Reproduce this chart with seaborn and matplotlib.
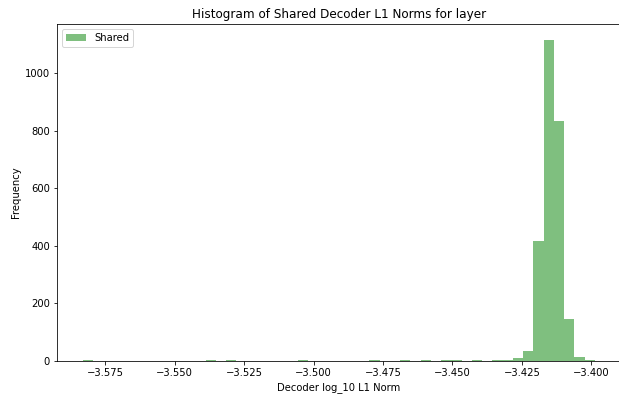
import matplotlib
matplotlib.use("Agg")
import matplotlib.pyplot as plt
import pandas as pd
import seaborn as sns

# centres of the non-empty bins (log10 of decoder L1 norm) and their counts
norm_values = [
    -3.5814, -3.5371, -3.5297, -3.5039, -3.4780, -3.4670, -3.4596,
    -3.4522, -3.4485, -3.4411, -3.4338, -3.4301, -3.4264, -3.4227,
    -3.4190, -3.4153, -3.4116, -3.4079, -3.4042, -3.4005,
]
norm_counts = [
    2, 2, 2, 2, 2, 2, 2,
    4, 2, 2, 2, 4, 9, 35,
    418, 1115, 833, 147, 14, 4,
]
data_min, data_max = -3.5832, -3.3987
n_bins = 50

df = pd.DataFrame({"norm": norm_values, "count": norm_counts})

fig = plt.figure(figsize=(619 / 72, 395 / 72), dpi=72)
ax = fig.add_axes([57 / 619, 34 / 395, 563.5 / 619, 337 / 395])

sns.histplot(
    data=df,
    x="norm",
    weights="count",
    bins=n_bins,
    binrange=(data_min, data_max),
    color="green",
    alpha=0.5,
    linewidth=0,
    label="Shared",
    ax=ax,
)

ax.set_title("Histogram of Shared Decoder L1 Norms for layer")
ax.set_xlabel("Decoder log_10 L1 Norm")
ax.set_ylabel("Frequency")
ax.legend(loc="upper left")

fig.savefig("out.png", dpi=72)
